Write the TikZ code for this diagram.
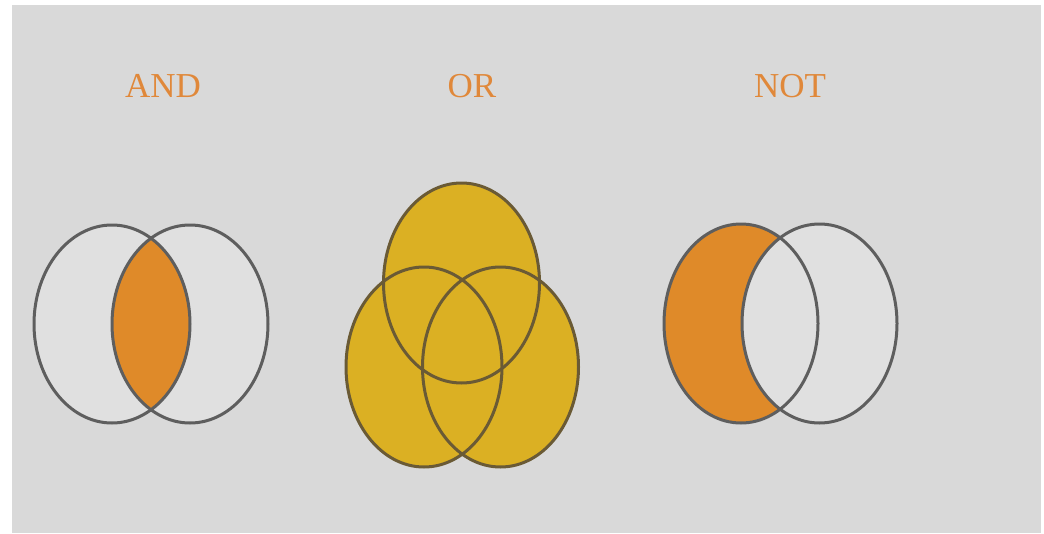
\documentclass[tikz,border=0pt]{standalone}
\usepackage{fontspec}
\setmainfont{Liberation Serif}
\definecolor{bggray}{HTML}{D9D9D9}
\definecolor{ingray}{HTML}{E0E0E0}
\definecolor{linegray}{HTML}{5E5E5E}
\definecolor{orangefill}{HTML}{DF8A29}
\definecolor{goldfill}{HTML}{DBB023}
\definecolor{goldline}{HTML}{6A5A35}
\definecolor{titleorange}{HTML}{E0883A}
\tikzset{
  outline/.style={draw=linegray, line width=3pt},
  goldoutline/.style={draw=goldline, line width=3pt},
  title/.style={text=titleorange, font=\fontsize{35}{40}\selectfont, inner sep=0pt}
}
\begin{document}
\begin{tikzpicture}[x=1pt,y=-1pt]
\useasboundingbox (0,0) rectangle (1044,533);
\fill[white] (0,0) rectangle (1044,533);
\fill[bggray] (12,5) rectangle (1041,533);

% titles
\node[title] (and) at (163,86) {AND};
\node[title] (or) at (472,86) {OR};
\node[title] (not) at (790,86) {NOT};

% AND
\fill[ingray] (112,324) ellipse [x radius=78, y radius=99];
\fill[ingray] (190,324) ellipse [x radius=78, y radius=99];
\begin{scope}
  \clip (112,324) ellipse [x radius=78, y radius=99];
  \fill[orangefill] (190,324) ellipse [x radius=78, y radius=99];
\end{scope}
\draw[outline] (112,324) ellipse [x radius=78, y radius=99];
\draw[outline] (190,324) ellipse [x radius=78, y radius=99];

% OR
\fill[goldfill] (461.5,283) ellipse [x radius=78, y radius=100];
\fill[goldfill] (424,367) ellipse [x radius=78, y radius=100];
\fill[goldfill] (500.5,367) ellipse [x radius=78, y radius=100];
\draw[goldoutline] (461.5,283) ellipse [x radius=78, y radius=100];
\draw[goldoutline] (424,367) ellipse [x radius=78, y radius=100];
\draw[goldoutline] (500.5,367) ellipse [x radius=78, y radius=100];

% NOT
\fill[orangefill] (741,323.5) ellipse [x radius=77, y radius=99.5];
\fill[ingray] (819.5,323.5) ellipse [x radius=77.5, y radius=99.5];
\draw[outline] (741,323.5) ellipse [x radius=77, y radius=99.5];
\draw[outline] (819.5,323.5) ellipse [x radius=77.5, y radius=99.5];
\end{tikzpicture}
\end{document}
